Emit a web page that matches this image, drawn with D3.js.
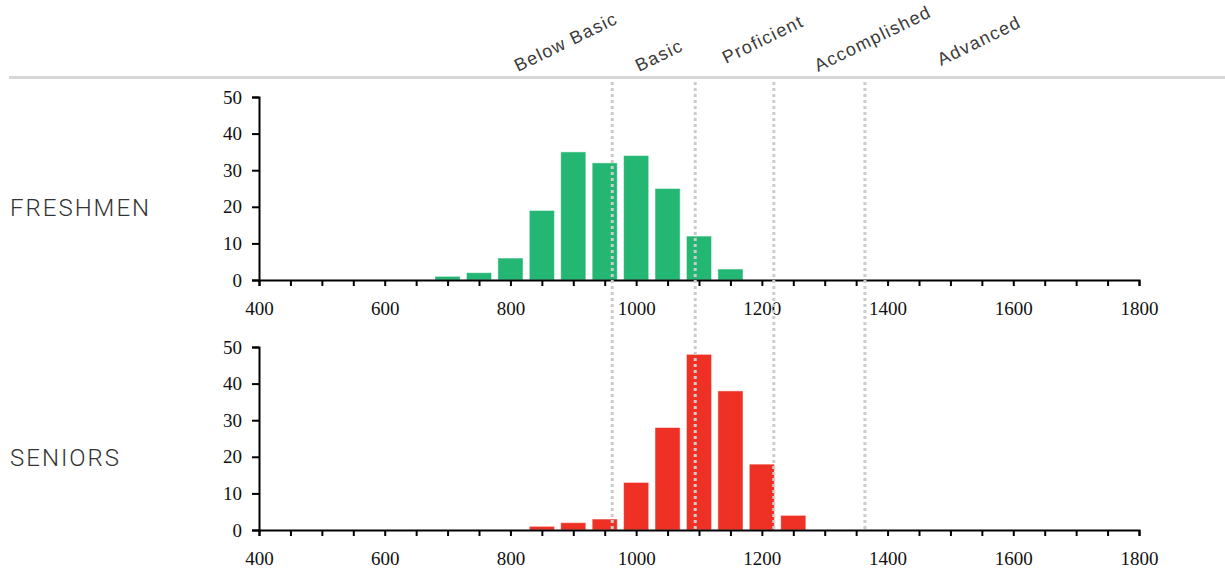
<!DOCTYPE html>
<html>
<head>
<meta charset="utf-8">
<script src="https://cdn.jsdelivr.net/npm/d3@7"></script>
<style>
  body { margin: 0; background: #fff; }
  svg { display: block; }
</style>
</head>
<body>
<svg id="chart" width="1225" height="579"></svg>
<script>
// Score histograms, freshmen vs seniors, with proficiency cut lines

// bin centres (score), width 50
const binsFreshmen = [700, 750, 800, 850, 900, 950, 1000, 1050, 1100, 1150];
const countsFreshmen = [1, 2, 6, 19, 35, 32, 34, 25, 12, 3];

const binsSeniors = [850, 900, 950, 1000, 1050, 1100, 1150, 1200, 1250];
const countsSeniors = [1, 2, 3, 13, 28, 48, 38, 18, 4];

const cutScores = [962, 1094, 1219, 1364];
const levelNames = ['Below Basic', 'Basic', 'Proficient', 'Accomplished', 'Advanced'];

const xTicks = [400, 600, 800, 1000, 1200, 1400, 1600, 1800];
const yTicks = [0, 10, 20, 30, 40, 50];

const svg = d3.select('#chart');

const x = d3.scaleLinear().domain([400, 1800]).range([259, 1139]);
const binWidth = 50;
const barW = (x(binWidth) - x(0)) * 0.8;

// grey rule
svg.append('line')
    .attr('x1', 9).attr('x2', 1225)
    .attr('y1', 77.5).attr('y2', 77.5)
    .attr('stroke', '#d6d6d6')
    .attr('stroke-width', 3);

// level labels, rotated
const labelPos = [[518, 72], [639, 72], [726, 64], [818, 72], [941, 66]];
svg.selectAll('text.level')
    .data(levelNames)
    .join('text')
    .attr('class', 'level')
    .attr('transform', (d, i) => `translate(${labelPos[i][0]},${labelPos[i][1]}) rotate(-26)`)
    .attr('fill', '#3a3a3a')
    .style('font', '18px "Liberation Sans", Arial, sans-serif')
    .style('letter-spacing', '1.3px')
    .text(d => d);

function drawPanel(top, bins, counts, colour, name) {
    const y = d3.scaleLinear().domain([0, 50]).range([top + 183, top]);
    const g = svg.append('g');

    g.append('text')
        .attr('x', 10).attr('y', top + 119)
        .attr('fill', '#333')
        .style('font', '300 24px Roboto, sans-serif')
        .style('letter-spacing', '2px')
        .text(name);

    g.selectAll('rect')
        .data(bins)
        .join('rect')
        .attr('x', d => x(d) - barW / 2)
        .attr('width', barW)
        .attr('y', (d, i) => y(counts[i]))
        .attr('height', (d, i) => y(0) - y(counts[i]))
        .attr('fill', colour)
        .attr('stroke', '#fff')
        .attr('stroke-opacity', 0.5)
        .attr('stroke-width', 1);

    const yAxis = g.append('g')
        .attr('transform', `translate(${x(400)},0)`)
        .call(d3.axisLeft(y).tickValues(yTicks).tickSize(7).tickPadding(10));

    const xAxis = g.append('g')
        .attr('transform', `translate(0,${y(0)})`)
        .call(d3.axisBottom(x).ticks(28).tickSize(6).tickPadding(16)
            .tickFormat(d => xTicks.includes(d) ? d : ''));

    [yAxis, xAxis].forEach(a => {
        a.select('.domain').attr('stroke', '#000').attr('stroke-width', 2);
        a.selectAll('line').attr('stroke', '#000').attr('stroke-width', 2);
        a.selectAll('text')
            .attr('fill', '#111')
            .style('font', '19px "Liberation Serif", "Times New Roman", serif');
    });
    return y;
}

drawPanel(97, binsFreshmen, countsFreshmen, '#24b673', 'FRESHMEN');
drawPanel(347, binsSeniors, countsSeniors, '#ee3124', 'SENIORS');

// dotted cut lines across both panels
svg.selectAll('line.cut')
    .data(cutScores)
    .join('line')
    .attr('class', 'cut')
    .attr('x1', d => x(d)).attr('x2', d => x(d))
    .attr('y1', 82).attr('y2', 532)
    .attr('stroke', '#cccccc')
    .attr('stroke-width', 3)
    .attr('stroke-dasharray', '3,3');
</script>
</body>
</html>
